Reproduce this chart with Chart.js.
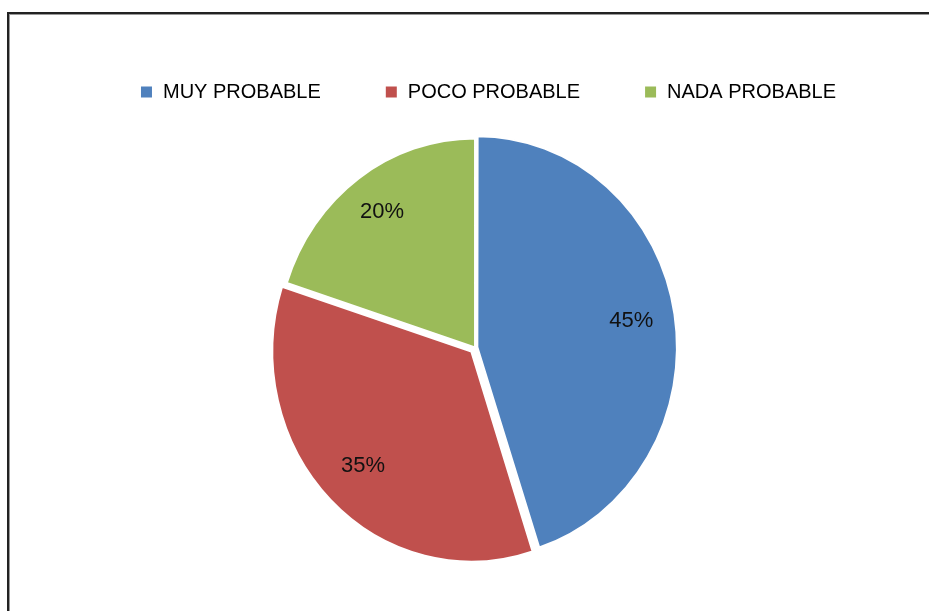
<!DOCTYPE html>
<html lang="es">
<head>
    <meta charset="UTF-8">
    <title>Probabilidad</title>
    <style>
        html, body {
            margin: 0;
            padding: 0;
            background: #fff;
            overflow: hidden;
        }
        #frame {
            position: absolute;
            left: 7px;
            top: 12px;
            width: 960px;
            height: 640px;
            border-left: 2px solid #222;
            border-top: 2px solid #222;
            box-shadow: inset 1px 1px 0 #999;
        }
        #chart-container {
            position: absolute;
            left: 0;
            top: 0;
            width: 929px;
            height: 611px;
        }
    </style>
    <script src="https://cdn.jsdelivr.net/npm/chart.js"></script>
</head>
<body>
    <div id="frame"></div>
    <div id="chart-container">
        <canvas id="pieChart" width="929" height="611"></canvas>
    </div>

    <script>
        // Answers and their shares (percent)
        const categories = ['MUY PROBABLE', 'POCO PROBABLE', 'NADA PROBABLE'];
        const shares = [45, 35, 20];
        const sliceColors = ['#4F81BD', '#C0504D', '#9BBB59'];
        const sliceOffsets = [10, 22, 0];

        // The pie is drawn slightly taller than wide
        const stretchX = 0.965;
        const stretchY = 1.02;

        function pieCenter(chart) {
            const a = chart.chartArea;
            return { x: (a.left + a.right) / 2, y: (a.top + a.bottom) / 2 };
        }

        const pieStretch = {
            id: 'pieStretch',
            beforeDatasetsDraw(chart) {
                const c = pieCenter(chart);
                chart.ctx.save();
                chart.ctx.translate(c.x, c.y);
                chart.ctx.scale(stretchX, stretchY);
                chart.ctx.translate(-c.x, -c.y);
            },
            afterDatasetsDraw(chart) {
                chart.ctx.restore();
            }
        };

        // Percent labels written inside each slice
        const sliceLabels = {
            id: 'sliceLabels',
            afterDatasetsDraw(chart) {
                const ctx = chart.ctx;
                const meta = chart.getDatasetMeta(0);
                const c = pieCenter(chart);
                ctx.save();
                ctx.font = '22px "Liberation Sans", Arial, sans-serif';
                ctx.fillStyle = '#111';
                ctx.textAlign = 'center';
                ctx.textBaseline = 'middle';
                meta.data.forEach((arc, i) => {
                    const p = arc.getProps(['x', 'y', 'startAngle', 'endAngle', 'outerRadius']);
                    const mid = (p.startAngle + p.endAngle) / 2;
                    const r = p.outerRadius * 0.8;
                    const x = c.x + (p.x - c.x + Math.cos(mid) * r) * stretchX;
                    const y = c.y + (p.y - c.y + Math.sin(mid) * r) * stretchY;
                    ctx.fillText(shares[i] + '%', x, y);
                });
                ctx.restore();
            }
        };

        // Nudge the legend row a little to the right of the pie centre
        const legendShift = {
            id: 'legendShift',
            afterLayout(chart) {
                chart.legend.left += 13;
                chart.legend.right += 13;
            }
        };

        const ctx = document.getElementById('pieChart').getContext('2d');
        const pieChart = new Chart(ctx, {
            type: 'pie',
            data: {
                labels: categories,
                datasets: [{
                    data: shares,
                    backgroundColor: sliceColors,
                    borderColor: '#ffffff',
                    borderWidth: 2,
                    offset: sliceOffsets
                }]
            },
            options: {
                responsive: false,
                animation: false,
                radius: 205,
                layout: {
                    padding: { top: 18, bottom: 28, left: 21, right: 0 }
                },
                plugins: {
                    legend: {
                        display: true,
                        position: 'top',
                        labels: {
                            boxWidth: 13,
                            boxHeight: 13,
                            padding: 64,
                            color: '#000',
                            font: { family: '"Liberation Sans", Arial, sans-serif', size: 20 }
                        }
                    },
                    tooltip: { enabled: false }
                }
            },
            plugins: [pieStretch, sliceLabels, legendShift]
        });
    </script>
</body>
</html>
